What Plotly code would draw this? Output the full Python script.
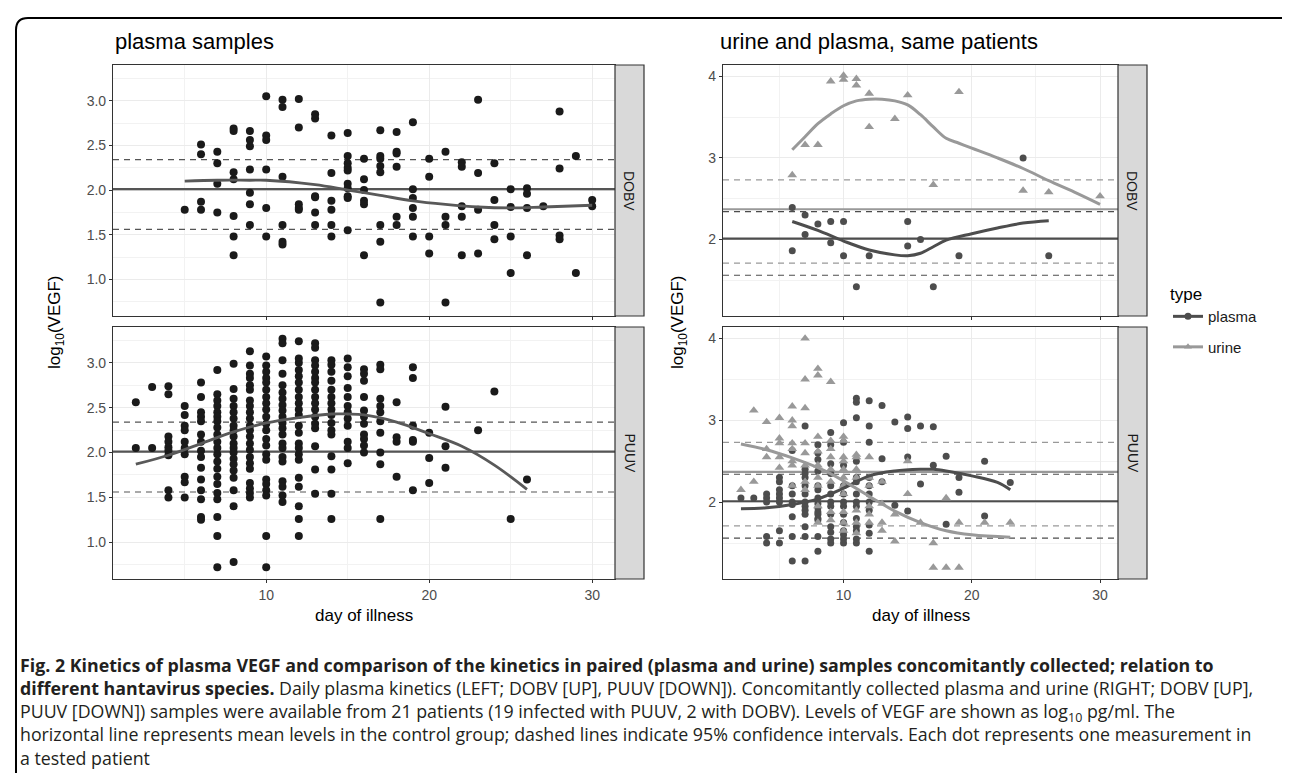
import plotly.graph_objects as go

W, H = 1290, 773

# ---------------- data ----------------
# Left panel, plasma samples, DOBV: day -> log10(VEGF) values
lp_dobv_days = [5, 6, 7, 8, 9, 10, 11, 12, 13, 14, 15, 16, 17, 18, 19, 20, 21, 22, 23, 24, 25, 26, 27, 28, 29, 30]
lp_dobv_vals = [
    [1.78],
    [2.51, 2.40, 1.87, 1.78],
    [2.43, 2.30, 2.07, 1.75],
    [2.69, 2.66, 2.20, 2.12, 1.71, 1.48, 1.27],
    [2.66, 2.56, 2.49, 2.23, 1.97, 1.84, 1.61],
    [3.05, 2.61, 2.56, 2.23, 1.80, 1.48],
    [3.01, 2.93, 2.15, 1.61, 1.42, 1.39],
    [3.02, 2.70, 1.84, 1.80, 1.78],
    [2.85, 2.80, 1.93, 1.92, 1.75, 1.61],
    [2.61, 2.19, 1.88, 1.78, 1.61, 1.48],
    [2.64, 2.38, 2.30, 2.25, 2.22, 2.07, 2.02, 1.93, 1.91, 1.55],
    [2.35, 2.12, 2.00, 1.88, 1.84, 1.27],
    [2.67, 2.38, 2.35, 2.27, 2.20, 1.61, 1.42, 0.74],
    [2.65, 2.43, 2.41, 2.26, 1.70, 1.61],
    [2.76, 2.01, 1.91, 1.80, 1.70, 1.48],
    [2.35, 2.15, 1.48, 1.29],
    [2.43, 1.70, 1.61, 0.74],
    [2.31, 2.26, 1.82, 1.70, 1.27],
    [3.01, 2.19, 1.78, 1.29],
    [2.30, 1.89, 1.61, 1.45],
    [2.01, 1.81, 1.48, 1.07],
    [2.02, 1.96, 1.80, 1.27],
    [1.82],
    [2.88, 2.24, 1.49, 1.45],
    [2.38, 1.07],
    [1.89, 1.82],
]
lp_dobv_smooth_x = [5, 7, 9, 10, 13, 15, 17, 19, 21, 23, 25, 27, 30]
lp_dobv_smooth_y = [2.10, 2.11, 2.11, 2.11, 2.06, 2.00, 1.94, 1.88, 1.84, 1.81, 1.80, 1.81, 1.83]

# Left panel, plasma samples, PUUV
lp_puuv_days = [2, 3, 4, 5, 6, 7, 8, 9, 10, 11, 12, 13, 14, 15, 16, 17, 18, 19, 20, 21, 23, 24, 25, 26]
lp_puuv_vals = [
    [2.56, 2.05],
    [2.73, 2.05],
    [2.74, 2.65, 2.18, 2.12, 2.06, 2.02, 1.97, 1.58, 1.50],
    [2.52, 2.42, 2.30, 2.25, 2.12, 2.05, 1.98, 1.73, 1.67, 1.50],
    [2.78, 2.62, 2.45, 2.40, 2.35, 2.20, 2.12, 2.02, 1.95, 1.83, 1.70, 1.58, 1.48, 1.28, 1.25],
    [2.92, 2.65, 2.58, 2.52, 2.45, 2.40, 2.35, 2.28, 2.20, 2.12, 2.05, 1.98, 1.90, 1.82, 1.73, 1.65, 1.55, 1.48, 1.28, 1.07, 0.72],
    [2.99, 2.71, 2.60, 2.52, 2.45, 2.38, 2.30, 2.25, 2.18, 2.10, 2.05, 2.00, 1.93, 1.87, 1.80, 1.72, 1.58, 1.40, 0.78],
    [3.13, 2.97, 2.88, 2.83, 2.75, 2.70, 2.58, 2.52, 2.45, 2.38, 2.30, 2.25, 2.18, 2.10, 2.03, 1.95, 1.88, 1.82, 1.66, 1.60, 1.55, 1.50],
    [3.07, 2.97, 2.90, 2.83, 2.78, 2.70, 2.62, 2.55, 2.48, 2.40, 2.32, 2.25, 2.15, 2.08, 1.98, 1.92, 1.70, 1.65, 1.58, 1.52, 1.07, 0.72],
    [3.27, 3.22, 3.03, 2.88, 2.75, 2.67, 2.60, 2.53, 2.47, 2.40, 2.33, 2.27, 2.20, 2.10, 2.05, 1.95, 1.90, 1.68, 1.62, 1.52, 1.45],
    [3.24, 3.05, 3.00, 2.92, 2.85, 2.78, 2.70, 2.62, 2.55, 2.48, 2.42, 2.30, 2.22, 2.10, 2.05, 1.98, 1.92, 1.72, 1.62, 1.40, 1.26, 1.07],
    [3.22, 3.17, 3.03, 2.97, 2.90, 2.83, 2.78, 2.70, 2.62, 2.55, 2.48, 2.40, 2.32, 2.27, 2.07, 1.81, 1.54],
    [3.03, 2.98, 2.90, 2.80, 2.70, 2.62, 2.55, 2.48, 2.42, 2.33, 2.25, 2.20, 1.96, 1.81, 1.54, 1.26],
    [3.05, 2.95, 2.85, 2.72, 2.62, 2.52, 2.45, 2.38, 2.30, 2.12, 2.05, 1.88],
    [2.93, 2.88, 2.80, 2.62, 2.47, 2.40, 2.32, 2.20, 2.15, 2.08, 2.00],
    [2.98, 2.93, 2.60, 2.52, 2.45, 2.35, 2.22, 2.00, 1.87, 1.26],
    [2.56, 2.17, 2.12, 1.73],
    [2.95, 2.83, 2.30, 2.14, 2.12, 1.58],
    [2.22, 1.94, 1.66],
    [2.51, 2.07, 1.83],
    [2.25],
    [2.68],
    [1.26],
    [1.70],
]
lp_puuv_smooth_x = [2, 4, 6, 8, 10, 12, 14, 15, 16, 18, 20, 22, 24, 26]
lp_puuv_smooth_y = [1.87, 1.97, 2.10, 2.23, 2.33, 2.39, 2.43, 2.43, 2.42, 2.34, 2.21, 2.07, 1.86, 1.59]

# Right panel, DOBV: plasma (circles) and urine (triangles)
rp_dobv_plasma_days = [6, 7, 8, 9, 10, 11, 12, 15, 16, 17, 19, 24, 26]
rp_dobv_plasma_vals = [
    [2.39, 1.86], [2.30, 2.06], [2.19], [2.22, 1.96], [2.22, 1.80], [1.42],
    [1.80], [2.22, 1.92], [2.00], [1.42], [1.80], [3.00], [1.80],
]
rp_dobv_urine_days = [6, 7, 8, 9, 10, 11, 12, 14, 15, 17, 19, 24, 26, 30]
rp_dobv_urine_vals = [
    [2.79], [3.16], [3.16], [3.94], [4.01, 3.96], [3.97, 3.89], [3.79, 3.38],
    [3.48], [3.77], [2.67], [3.81], [2.60], [2.58], [2.53],
]
rp_dobv_plasma_smooth_x = [6, 8, 10, 12, 14, 15, 16, 17, 18, 20, 22, 24, 26]
rp_dobv_plasma_smooth_y = [2.22, 2.11, 1.98, 1.87, 1.81, 1.80, 1.83, 1.91, 1.99, 2.07, 2.14, 2.20, 2.23]
rp_dobv_urine_smooth_x = [6, 7, 8, 9, 10, 11, 12, 13, 14, 15, 16, 17, 18, 19, 20, 22, 24, 26, 28, 30]
rp_dobv_urine_smooth_y = [3.10, 3.26, 3.42, 3.54, 3.64, 3.70, 3.72, 3.72, 3.70, 3.65, 3.53, 3.38, 3.24, 3.18, 3.12, 3.00, 2.87, 2.72, 2.58, 2.43]

# Right panel, PUUV
rp_puuv_plasma_days = [2, 3, 4, 5, 6, 7, 8, 9, 10, 11, 12, 13, 14, 15, 16, 17, 18, 19, 21, 23]
rp_puuv_plasma_vals = [
    [2.05],
    [2.05],
    [2.10, 2.05, 2.00, 1.58, 1.50],
    [2.30, 2.25, 2.15, 2.10, 2.05, 2.00, 1.65, 1.50],
    [2.63, 2.20, 2.10, 2.00, 1.97, 1.82, 1.58, 1.28],
    [2.93, 2.40, 2.35, 2.30, 2.20, 2.10, 2.00, 1.95, 1.90, 1.85, 1.70, 1.58, 1.28],
    [2.70, 2.60, 2.52, 2.38, 2.20, 2.15, 2.05, 1.98, 1.93, 1.88, 1.85, 1.80, 1.78, 1.58, 1.40],
    [2.85, 2.70, 2.47, 2.35, 2.20, 2.10, 2.00, 1.95, 1.85, 1.70, 1.63, 1.55, 1.50],
    [2.97, 2.73, 2.45, 2.20, 2.10, 2.00, 1.95, 1.85, 1.75, 1.65, 1.60, 1.55, 1.50],
    [3.27, 3.22, 3.03, 2.50, 2.30, 2.25, 2.10, 2.00, 1.95, 1.80, 1.70, 1.65, 1.55, 1.50],
    [3.24, 2.93, 2.73, 2.30, 2.20, 2.10, 2.00, 1.90, 1.72, 1.62, 1.40],
    [3.18, 2.53, 2.25],
    [2.98, 1.96],
    [3.04, 2.90, 2.55, 1.89],
    [2.93, 2.22],
    [2.92, 2.45],
    [2.56, 1.73],
    [2.30, 2.12],
    [2.50, 1.83],
    [2.24],
]
rp_puuv_urine_days = [2, 3, 4, 5, 6, 7, 8, 9, 10, 11, 12, 13, 14, 15, 16, 17, 18, 19, 21, 23]
rp_puuv_urine_vals = [
    [2.15],
    [3.12, 2.25],
    [2.98, 2.65, 2.55],
    [3.03, 2.78, 2.72, 2.55, 2.42],
    [3.17, 3.00, 2.93, 2.72, 2.65, 2.50, 2.45, 2.20],
    [4.00, 3.50, 3.15, 2.72, 2.60, 2.45, 2.25, 2.15],
    [3.63, 3.55, 2.80, 2.62, 2.45, 2.30, 2.20, 1.95, 1.75],
    [3.47, 2.75, 2.65, 2.55, 2.40, 2.25, 1.88, 1.78],
    [2.80, 2.75, 2.55, 2.50, 2.40, 2.30, 2.20, 2.10, 1.88, 1.75, 1.65],
    [2.58, 2.55, 2.40, 2.30, 1.90, 1.75, 1.62],
    [2.55, 2.30, 2.20, 1.95, 1.85, 1.75],
    [2.25, 1.98, 1.75, 1.65],
    [1.85, 1.52],
    [2.50, 2.10],
    [1.75],
    [1.50, 1.20],
    [2.05, 1.20],
    [1.75, 1.20],
    [1.75],
    [1.75],
]
rp_puuv_plasma_smooth_x = [2, 4, 6, 8, 10, 12, 14, 16, 17, 18, 20, 22, 23]
rp_puuv_plasma_smooth_y = [1.92, 1.93, 1.97, 2.04, 2.17, 2.32, 2.38, 2.40, 2.40, 2.38, 2.32, 2.24, 2.15]
rp_puuv_urine_smooth_x = [2, 4, 6, 8, 10, 12, 14, 16, 18, 20, 23]
rp_puuv_urine_smooth_y = [2.71, 2.64, 2.54, 2.42, 2.26, 2.07, 1.89, 1.75, 1.65, 1.60, 1.57]

# control group reference levels
ctrl_plasma_mean = 2.01
ctrl_plasma_ci = [1.56, 2.34]
ctrl_urine_mean = 2.37
ctrl_urine_ci = [1.71, 2.73]

facet_labels = ["DOBV", "PUUV"]
panel_titles = ["plasma samples", "urine and plasma, same patients"]
legend_labels = ["plasma", "urine"]

caption_lines = [
    "<b>Fig. 2 Kinetics of plasma VEGF and comparison of the kinetics in paired (plasma and urine) samples concomitantly collected; relation to</b>",
    "<b>different hantavirus species.</b> Daily plasma kinetics (LEFT; DOBV [UP], PUUV [DOWN]). Concomitantly collected plasma and urine (RIGHT; DOBV [UP],",
    "PUUV [DOWN]) samples were available from 21 patients (19 infected with PUUV, 2 with DOBV). Levels of VEGF are shown as log<sub>10</sub> pg/ml. The",
    "horizontal line represents mean levels in the control group; dashed lines indicate 95% confidence intervals. Each dot represents one measurement in",
    "a tested patient",
]

# ---------------- layout helpers ----------------
def px(x):
    return x / W

def py(y):
    return 1 - y / H

def flat(days, vals):
    xs, ys = [], []
    for d, vs in zip(days, vals):
        for v in vs:
            xs.append(d)
            ys.append(v)
    return xs, ys

X_RANGE = [0.6, 31.4]
L_YRANGE = [0.59, 3.40]
R_YRANGE = [1.06, 4.14]

LEFT = (105, 607, 636)
RIGHT = (715, 1110, 1139)
TOP = (57, 308)
BOT = (319, 571)

AXCOL = "#333333"
GRID = "#EBEBEB"
FONT = "Liberation Sans, Arial, Helvetica, sans-serif"

fig = go.Figure()

def add_pts(days, vals, xa, ya, color, symbol, size):
    xs, ys = flat(days, vals)
    fig.add_trace(go.Scatter(x=xs, y=ys, mode="markers", xaxis=xa, yaxis=ya,
                             marker=dict(color=color, size=size, symbol=symbol, line=dict(width=0)),
                             showlegend=False, hoverinfo="x+y"))

def add_line(xs, ys, xa, ya, color, width, dash="solid", shape="spline"):
    fig.add_trace(go.Scatter(x=xs, y=ys, mode="lines", xaxis=xa, yaxis=ya,
                             line=dict(color=color, width=width, dash=dash, shape=shape),
                             showlegend=False, hoverinfo="skip"))

def add_ref(mean, ci, xa, ya, color):
    add_line(X_RANGE, [mean, mean], xa, ya, color, 2.2, shape="linear")
    for c in ci:
        add_line(X_RANGE, [c, c], xa, ya, color, 1.2, dash="6px,5px", shape="linear")

PT = "#1A1A1A"
PL = "#4D4D4D"
UR = "#999999"

# left DOBV (x, y)
add_ref(ctrl_plasma_mean, ctrl_plasma_ci, "x", "y", "#555555")
add_pts(lp_dobv_days, lp_dobv_vals, "x", "y", PT, "circle", 8)
add_line(lp_dobv_smooth_x, lp_dobv_smooth_y, "x", "y", "#595959", 2.8)
# left PUUV (x2, y2)
add_ref(ctrl_plasma_mean, ctrl_plasma_ci, "x2", "y2", "#555555")
add_pts(lp_puuv_days, lp_puuv_vals, "x2", "y2", PT, "circle", 8)
add_line(lp_puuv_smooth_x, lp_puuv_smooth_y, "x2", "y2", "#595959", 2.8)
# right DOBV (x3, y3)
add_ref(ctrl_plasma_mean, ctrl_plasma_ci, "x3", "y3", PL)
add_ref(ctrl_urine_mean, ctrl_urine_ci, "x3", "y3", UR)
add_pts(rp_dobv_plasma_days, rp_dobv_plasma_vals, "x3", "y3", PL, "circle", 7)
add_pts(rp_dobv_urine_days, rp_dobv_urine_vals, "x3", "y3", UR, "triangle-up", 8.5)
add_line(rp_dobv_plasma_smooth_x, rp_dobv_plasma_smooth_y, "x3", "y3", PL, 3)
add_line(rp_dobv_urine_smooth_x, rp_dobv_urine_smooth_y, "x3", "y3", UR, 3)
# right PUUV (x4, y4)
add_ref(ctrl_plasma_mean, ctrl_plasma_ci, "x4", "y4", PL)
add_ref(ctrl_urine_mean, ctrl_urine_ci, "x4", "y4", UR)
add_pts(rp_puuv_plasma_days, rp_puuv_plasma_vals, "x4", "y4", PL, "circle", 7)
add_pts(rp_puuv_urine_days, rp_puuv_urine_vals, "x4", "y4", UR, "triangle-up", 8.5)
add_line(rp_puuv_plasma_smooth_x, rp_puuv_plasma_smooth_y, "x4", "y4", PL, 3)
add_line(rp_puuv_urine_smooth_x, rp_puuv_urine_smooth_y, "x4", "y4", UR, 3)

# legend entries
for name, col, sym in zip(legend_labels, [PL, UR], ["circle", "triangle-up"]):
    fig.add_trace(go.Scatter(x=[None], y=[None], mode="lines+markers", name=name,
                             xaxis="x3", yaxis="y3", legendgroup=name,
                             line=dict(color=col, width=3),
                             marker=dict(color=col, size=7, symbol=sym)))

TICKFONT = dict(family=FONT, size=14, color="#4D4D4D")

def xaxis(cols, labels, anchor):
    return dict(domain=[px(cols[0]), px(cols[1])], range=X_RANGE, anchor=anchor,
                tickvals=[10, 20, 30], showticklabels=labels,
                ticks="outside", ticklen=3, tickwidth=1, tickcolor=AXCOL,
                tickfont=TICKFONT,
                showline=True, linecolor=AXCOL, linewidth=1.2, mirror=True,
                showgrid=True, gridcolor=GRID, gridwidth=1.3, zeroline=False,
                minor=dict(tickvals=[5, 15, 25], showgrid=True, gridcolor="#F2F2F2", gridwidth=1),
                fixedrange=True)

def yaxis(rows, rng, tv, minor, fmt, anchor):
    return dict(domain=[py(rows[1]), py(rows[0])], range=rng, anchor=anchor,
                tickvals=tv, tickformat=fmt, ticks="outside", ticklen=3, tickwidth=1,
                tickcolor=AXCOL, tickfont=TICKFONT,
                showline=True, linecolor=AXCOL, linewidth=1.2, mirror=True,
                showgrid=True, gridcolor=GRID, gridwidth=1.3, zeroline=False,
                minor=dict(tickvals=minor, showgrid=True, gridcolor="#F2F2F2", gridwidth=1),
                fixedrange=True)

lt = [1.0, 1.5, 2.0, 2.5, 3.0]
lm = [0.75, 1.25, 1.75, 2.25, 2.75, 3.25]
rt = [2, 3, 4]
rm = [1.5, 2.5, 3.5]

fig.update_layout(
    xaxis=xaxis(LEFT, False, "y"),
    yaxis=yaxis(TOP, L_YRANGE, lt, lm, ".1f", "x"),
    xaxis2=xaxis(LEFT, True, "y2"),
    yaxis2=yaxis(BOT, L_YRANGE, lt, lm, ".1f", "x2"),
    xaxis3=xaxis(RIGHT, False, "y3"),
    yaxis3=yaxis(TOP, R_YRANGE, rt, rm, "d", "x3"),
    xaxis4=xaxis(RIGHT, True, "y4"),
    yaxis4=yaxis(BOT, R_YRANGE, rt, rm, "d", "x4"),
)

shapes = []
annotations = []

# facet strips
for cols in (LEFT, RIGHT):
    for rows, lab in zip((TOP, BOT), facet_labels):
        shapes.append(dict(type="rect", xref="paper", yref="paper",
                           x0=px(cols[1]), x1=px(cols[2]), y0=py(rows[1]), y1=py(rows[0]),
                           fillcolor="#D9D9D9", line=dict(color=AXCOL, width=1.2), layer="above"))
        annotations.append(dict(x=px((cols[1] + cols[2]) / 2), y=py((rows[0] + rows[1]) / 2),
                                xref="paper", yref="paper", text=lab, textangle=90, showarrow=False,
                                xanchor="center", yanchor="middle",
                                font=dict(family=FONT, size=14, color="#1A1A1A")))

# panel titles
for xt, t in zip((105, 710), panel_titles):
    annotations.append(dict(x=px(xt), y=py(33), xref="paper", yref="paper", text=t,
                            xanchor="left", yanchor="middle", showarrow=False,
                            font=dict(family=FONT, size=22, color="#000000")))

# axis titles
for xc, cols in zip((48, 671), (LEFT, RIGHT)):
    annotations.append(dict(x=px(xc), y=py((TOP[0] + BOT[1]) / 2), xref="paper", yref="paper",
                            text="log<sub>10</sub>(VEGF)", textangle=-90, showarrow=False,
                            xanchor="center", yanchor="middle",
                            font=dict(family=FONT, size=17, color="#000000")))
    annotations.append(dict(x=px((cols[0] + cols[1]) / 2), y=py(607), xref="paper", yref="paper",
                            text="day of illness", showarrow=False, xanchor="center", yanchor="middle",
                            font=dict(family=FONT, size=17, color="#000000")))

# caption (one multi-line block)
annotations.append(dict(x=px(10), y=py(703), xref="paper", yref="paper",
                        text="<br>".join(caption_lines), align="left",
                        xanchor="left", yanchor="middle", showarrow=False,
                        font=dict(family="Open Sans, sans-serif", size=17.8, color="#231F20")))

# outer border with rounded corners
def P(x, y):
    return f"{px(x):.5f},{py(y):.5f}"

border = ("M " + P(8, 773) + " L " + P(8, 22) + " Q " + P(8, 10) + " " + P(20, 10) +
          " L " + P(1280, 10) + " Q " + P(1289, 10) + " " + P(1289, 16) + " L " + P(1289, 773))
shapes.append(dict(type="path", xref="paper", yref="paper", path=border,
                   line=dict(color="#000000", width=2)))

fig.update_layout(
    width=W, height=H, margin=dict(l=0, r=0, t=0, b=0),
    paper_bgcolor="white", plot_bgcolor="white",
    shapes=shapes, annotations=annotations,
    showlegend=True,
    legend=dict(x=px(1160), y=py(270), xanchor="left", yanchor="top",
                title=dict(text="type", font=dict(family=FONT, size=17, color="#000")),
                font=dict(family=FONT, size=15, color="#1A1A1A"),
                tracegroupgap=8, bgcolor="rgba(0,0,0,0)", itemwidth=30),
    font=dict(family=FONT),
)

fig.write_html("out.html")
